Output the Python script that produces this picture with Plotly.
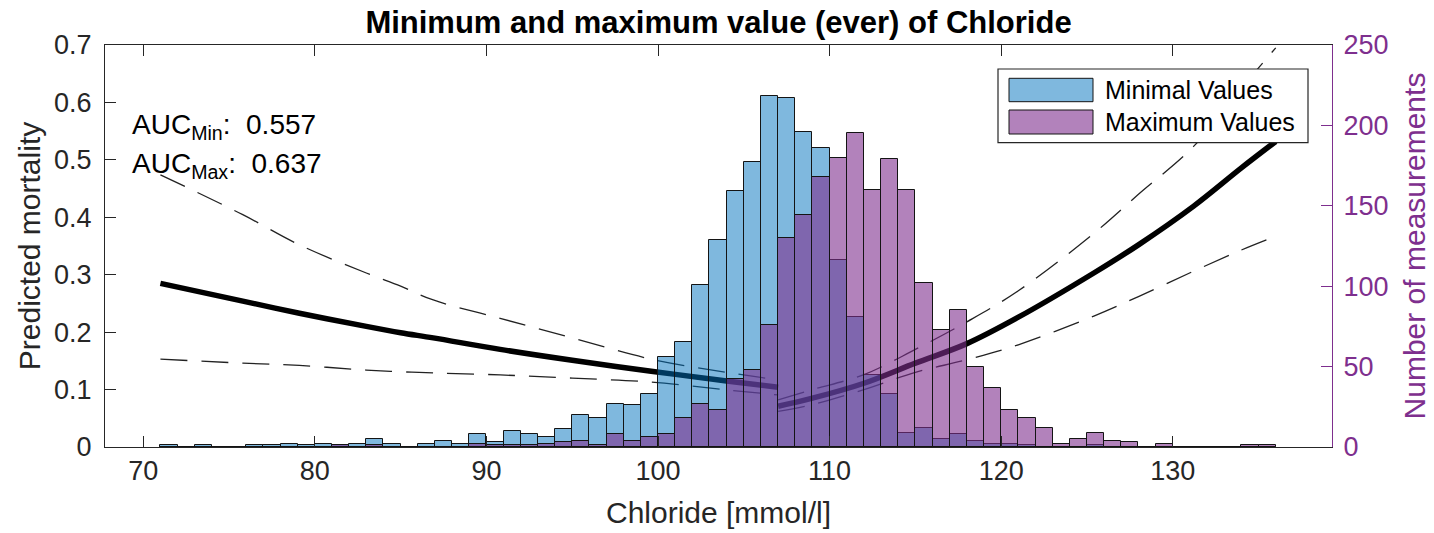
import plotly.graph_objects as go

# ---------------- data ----------------
bin_left = list(range(71, 136))  # 1-unit bins [n, n+1)

min_counts = [1, 0, 1, 0, 0, 1, 1, 2, 1, 2,      # 71-80
              1, 2, 5, 2, 0, 2, 4, 2, 8, 3,      # 81-90
              10, 8, 6, 11, 20, 18, 27, 26, 33, 56,   # 91-100
              65, 101, 129, 159, 177, 218, 217, 196, 186, 116,  # 101-110
              81, 45, 33, 9, 12, 5, 8, 4, 2, 2,  # 111-120
              1, 0, 0, 0, 1, 0, 0, 0, 0, 0,      # 121-130
              0, 0, 0, 0, 0]                     # 131-135

max_counts = [0, 0, 0, 0, 0, 0, 0, 0, 0, 0,      # 71-80
              1, 0, 1, 0, 0, 0, 0, 0, 2, 1,      # 81-90
              1, 1, 2, 3, 4, 1, 8, 4, 6, 8,      # 91-100
              18, 27, 23, 42, 48, 76, 130, 144, 168, 180,  # 101-110
              195, 160, 179, 160, 102, 73, 85, 50, 37, 23,  # 111-120
              18, 12, 2, 5, 9, 4, 3, 0, 2, 0,    # 121-130
              0, 0, 0, 1, 1]                     # 131-135

# model curves
left_x = [71, 75.8, 79.1, 83, 85, 86.9, 90.8, 95, 99.6, 104, 107]
left_fit = [0.285, 0.254, 0.233, 0.210, 0.199, 0.190, 0.170, 0.151, 0.132, 0.115, 0.104]
left_up = [0.474, 0.4045, 0.352, 0.303, 0.280, 0.256, 0.224, 0.190, 0.153, 0.130, 0.117]
left_lo = [0.153, 0.146, 0.142, 0.134, 0.131, 0.129, 0.1255, 0.120, 0.113, 0.0994, 0.0907]

right_x = [107, 109, 112, 115, 118, 121, 125.4, 128, 131.2, 134, 136]
right_fit = [0.071, 0.085, 0.111, 0.146, 0.180, 0.226, 0.303, 0.352, 0.419, 0.486, 0.532]
right_up = [0.082, 0.100, 0.126, 0.170, 0.218, 0.272, 0.372, 0.440, 0.523, 0.625, 0.695]
right_lo = [0.062, 0.074, 0.100, 0.130, 0.152, 0.178, 0.228, 0.262, 0.306, 0.343, 0.367]

x_ticks = [70, 80, 90, 100, 110, 120, 130]
y_ticks = [0, 0.1, 0.2, 0.3, 0.4, 0.5, 0.6, 0.7]
y2_ticks = [0, 50, 100, 150, 200, 250]

auc_min = "0.557"
auc_max = "0.637"

# ---------------- style ----------------
FONT = "Liberation Sans, Arial, Helvetica, sans-serif"
AX = "#262626"
PURPLE = "#7E2F8E"
BLUE_FILL = "rgba(0,114,189,0.5)"
PURP_FILL = "rgba(126,47,142,0.6)"
EDGE = "rgba(20,20,20,1)"

bin_centers = [b + 0.5 for b in bin_left]

fig = go.Figure()

# curves on left axis (drawn beneath the histogram axis)
for xs, ys in [(left_x, left_up), (left_x, left_lo), (right_x, right_up), (right_x, right_lo)]:
    fig.add_trace(go.Scatter(x=xs, y=ys, mode="lines", yaxis="y",
                             line=dict(color="#222222", width=1.3, dash="27px,14px", shape="spline"),
                             showlegend=False, hoverinfo="skip"))
for xs, ys in [(left_x, left_fit), (right_x, right_fit)]:
    fig.add_trace(go.Scatter(x=xs, y=ys, mode="lines", yaxis="y",
                             line=dict(color="black", width=5.5, shape="spline"),
                             showlegend=False, hoverinfo="skip"))

# histograms on right axis
fig.add_trace(go.Bar(x=bin_centers, y=min_counts, width=1, yaxis="y2",
                     name="Minimal Values",
                     marker=dict(color=BLUE_FILL, line=dict(color=EDGE, width=1)),
                     showlegend=False))
fig.add_trace(go.Bar(x=bin_centers, y=max_counts, width=1, yaxis="y2",
                     name="Maximum Values",
                     marker=dict(color=PURP_FILL, line=dict(color=EDGE, width=1)),
                     showlegend=False))

# ---------------- layout ----------------
L, R, T, B = 105, 102, 45, 86
W, H = 1434, 533
pw, ph = W - L - R, H - T - B


def px(xp):
    return (xp - L) / pw


def py(yp):
    return (H - B - yp) / ph


shapes = [
    dict(type="rect", xref="paper", yref="paper", x0=px(998), x1=px(1308), y0=py(142.7), y1=py(69),
         line=dict(color=AX, width=1.2), fillcolor="white", layer="above"),
    dict(type="rect", xref="paper", yref="paper", x0=px(1009), x1=px(1093), y0=py(101.7), y1=py(78.3),
         line=dict(color=EDGE, width=1), fillcolor=BLUE_FILL, layer="above"),
    dict(type="rect", xref="paper", yref="paper", x0=px(1009), x1=px(1093), y0=py(134), y1=py(110),
         line=dict(color=EDGE, width=1), fillcolor=PURP_FILL, layer="above"),
]

annotations = [
    dict(text="Minimal Values", xref="paper", yref="paper", x=px(1103), y=py(90),
         xanchor="left", yanchor="middle", showarrow=False, font=dict(family=FONT, size=25, color="black")),
    dict(text="Maximum Values", xref="paper", yref="paper", x=px(1103), y=py(122),
         xanchor="left", yanchor="middle", showarrow=False, font=dict(family=FONT, size=25, color="black")),
    dict(text="AUC<sub>Min</sub>:&nbsp; " + auc_min, xref="paper", yref="paper", x=px(130), y=py(127),
         xanchor="left", yanchor="middle", showarrow=False, font=dict(family=FONT, size=28, color="black")),
    dict(text="AUC<sub>Max</sub>:&nbsp; " + auc_max, xref="paper", yref="paper", x=px(130), y=py(165),
         xanchor="left", yanchor="middle", showarrow=False, font=dict(family=FONT, size=28, color="black")),
]

fig.update_layout(
    width=W, height=H,
    margin=dict(l=L, r=R, t=T, b=B, pad=0),
    paper_bgcolor="white", plot_bgcolor="white",
    barmode="overlay", bargap=0,
    font=dict(family=FONT, size=27, color=AX),
    title=dict(text="<b>Minimum and maximum value (ever) of Chloride</b>",
               x=(L + pw / 2) / W, xanchor="center", y=1 - 22 / H, yanchor="middle",
               yref="container", font=dict(family=FONT, size=31, color="black")),
    xaxis=dict(range=[67.77, 139.28], tickvals=x_ticks, ticktext=[str(v) for v in x_ticks],
               ticks="inside", ticklen=11, tickwidth=1, tickcolor=AX,
               showline=True, linecolor=AX, linewidth=1, mirror="ticks",
               showgrid=False, zeroline=False, automargin=False,
               tickfont=dict(family=FONT, size=27, color=AX),
               title=dict(text="Chloride [mmol/l]", standoff=16,
                          font=dict(family=FONT, size=30, color=AX))),
    yaxis=dict(range=[0, 0.7], tickvals=y_ticks, ticktext=["0", "0.1", "0.2", "0.3", "0.4", "0.5", "0.6", "0.7"],
               ticks="inside", ticklen=11, tickwidth=1, tickcolor=AX, ticklabelstandoff=7,
               showline=True, linecolor=AX, linewidth=1, mirror=False,
               showgrid=False, zeroline=False, automargin=False,
               tickfont=dict(family=FONT, size=27, color=AX),
               title=dict(text="Predicted mortality", standoff=4,
                          font=dict(family=FONT, size=30, color=AX))),
    yaxis2=dict(range=[0, 250], tickvals=y2_ticks, overlaying="y", side="right",
                ticks="inside", ticklen=11, tickwidth=1, tickcolor=PURPLE, ticklabelstandoff=5,
                showline=True, linecolor=PURPLE, linewidth=1,
                showgrid=False, zeroline=False, automargin=False,
                tickfont=dict(family=FONT, size=27, color=PURPLE),
                title=dict(text="Number of measurements", standoff=16,
                           font=dict(family=FONT, size=30, color=PURPLE))),
    shapes=shapes,
    annotations=annotations,
    showlegend=False,
)

fig.write_html("out.html")
